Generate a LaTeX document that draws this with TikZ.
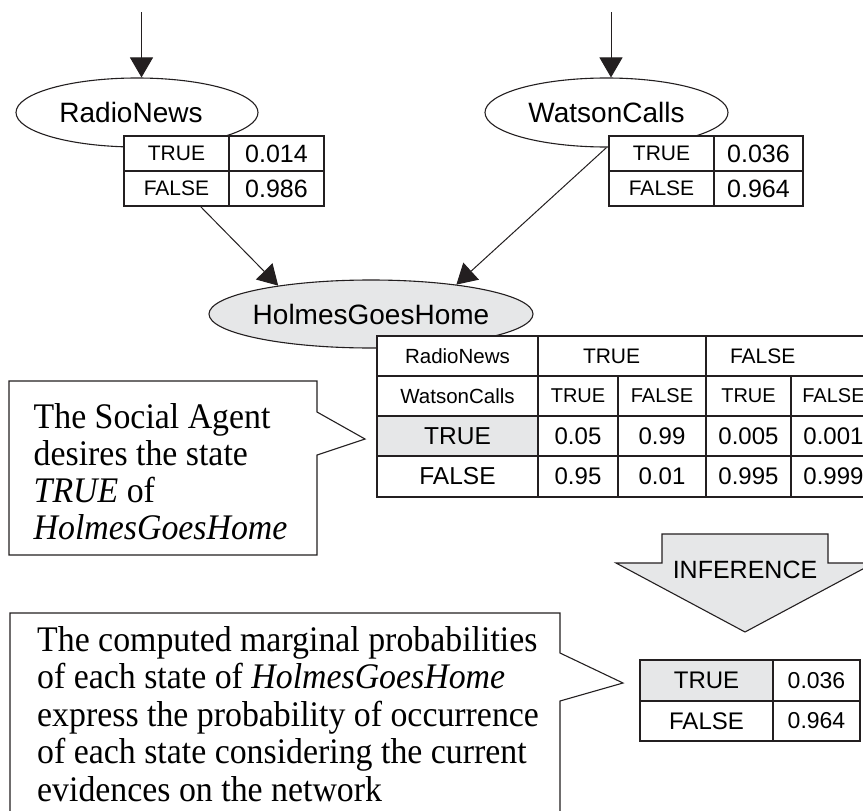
\documentclass[tikz,border=0pt]{standalone}
\usepackage{fontspec}
\setmainfont{Liberation Serif}
\newfontfamily\arialfont{Liberation Sans}
\newfontfamily\notefont[FakeStretch=0.94]{Liberation Serif}
\usetikzlibrary{arrows.meta,shapes.geometric,calc}

\definecolor{ink}{HTML}{231F20}
\definecolor{shade}{HTML}{E6E7E8}

% sans and serif text at a given size (pt)
\newcommand\sfz[1]{\fontsize{#1}{#1}\selectfont\arialfont}
\newcommand\rmz[1]{\fontsize{#1}{#1}\selectfont\notefont}

\begin{document}
\begin{tikzpicture}[x=1pt,y=-1pt,
  var/.style={ellipse, draw=ink, line width=1.1pt, inner sep=0pt, minimum height=69pt, font=\sfz{28}},
  cell/.style={rectangle, draw=ink, line width=1.1pt, fill=white, inner sep=0pt},
  hot/.style={fill=shade},
  conn/.style={draw=ink, line width=1pt, -{Triangle[length=20pt,width=23pt]}},
  bubble/.style={draw=ink, line width=1.1pt, fill=white, line join=miter},
  note/.style={anchor=base west, inner sep=0pt, font=\rmz{36}},
  lab/.style={font=\sfz{21}},
  val/.style={font=\sfz{25}},
]
\useasboundingbox (0,0) rectangle (863,811);
\clip (0,0) rectangle (863,811);

% ---------- parent variables ----------
\node[var, minimum width=242pt] (rn) at (137,112.5) {\makebox[0pt]{\hspace*{-12pt}RadioNews}};
\node[var, minimum width=243pt] (wc) at (606.5,112.5) {\makebox[0pt]{WatsonCalls}};

\coordinate (rnIn) at (141.5,12);
\coordinate (wcIn) at (611,12);
\draw[conn] (rnIn) -- (rnIn |- rn.north);
\draw[conn] (wcIn) -- (wcIn |- wc.north);

% prior of RadioNews
\node[cell, lab, minimum width=105pt, minimum height=35pt] (rnT)  at (176.5,153.5) {TRUE};
\node[cell, val, minimum width=95pt,  minimum height=35pt] (rnTv) at (276.5,153.5) {0.014};
\node[cell, lab, minimum width=105pt, minimum height=35pt] (rnF)  at (176.5,188.5) {FALSE};
\node[cell, val, minimum width=95pt,  minimum height=35pt] (rnFv) at (276.5,188.5) {0.986};

% prior of WatsonCalls
\node[cell, lab, minimum width=105pt, minimum height=35pt] (wcT)  at (661.5,153.5) {TRUE};
\node[cell, val, minimum width=89pt,  minimum height=35pt] (wcTv) at (758.5,153.5) {0.036};
\node[cell, lab, minimum width=105pt, minimum height=35pt] (wcF)  at (661.5,188.5) {FALSE};
\node[cell, val, minimum width=89pt,  minimum height=35pt] (wcFv) at (758.5,188.5) {0.964};

% ---------- child variable ----------
\node[var, minimum width=324pt, minimum height=68pt, fill=shade] (hgh) at (371,314) {\makebox[0pt]{HolmesGoesHome}};

\coordinate (rnOut) at (200,206);
\draw[conn] (rnOut) -- (hgh.163);
\draw[conn] (wc.south) -- (hgh.19);

% conditional probability table of HolmesGoesHome
\node[cell, font=\sfz{20.5}, minimum width=161pt, minimum height=40pt] (hRN) at (457.5,356) {RadioNews};
\node[cell, font=\sfz{21}, minimum width=168pt, minimum height=40pt] (hT) at (622,356) {\makebox[168pt][l]{\hspace{45pt}TRUE}};
\node[cell, font=\sfz{21}, minimum width=170pt, minimum height=40pt] (hF) at (791,356) {\makebox[170pt][l]{\hspace{24pt}FALSE}};

\node[cell, font=\sfz{20.5}, minimum width=161pt, minimum height=40pt] (hWC) at (457.5,396) {WatsonCalls};
\node[cell, font=\sfz{20}, minimum width=80pt, minimum height=40pt] (h2a) at (578,396)   {TRUE};
\node[cell, font=\sfz{20}, minimum width=88pt, minimum height=40pt] (h2b) at (662,396)   {FALSE};
\node[cell, font=\sfz{20}, minimum width=85pt, minimum height=40pt] (h2c) at (748.5,396) {TRUE};
\node[cell, font=\sfz{20}, minimum width=85pt, minimum height=40pt] (h2d) at (833.5,396) {FALSE};

\node[cell, hot, font=\sfz{24.5}, minimum width=161pt, minimum height=40pt] (sT) at (457.5,436) {TRUE};
\node[cell, font=\sfz{24}, minimum width=80pt, minimum height=40pt] (p1) at (578,436)   {0.05};
\node[cell, font=\sfz{24}, minimum width=88pt, minimum height=40pt] (p2) at (662,436)   {0.99};
\node[cell, font=\sfz{24}, minimum width=85pt, minimum height=40pt] (p3) at (748.5,436) {0.005};
\node[cell, font=\sfz{24}, minimum width=85pt, minimum height=40pt] (p4) at (833.5,436) {0.001};

\node[cell, font=\sfz{24.5}, minimum width=161pt, minimum height=41pt] (sF) at (457.5,476.5) {FALSE};
\node[cell, font=\sfz{24}, minimum width=80pt, minimum height=41pt] (q1) at (578,476.5)   {0.95};
\node[cell, font=\sfz{24}, minimum width=88pt, minimum height=41pt] (q2) at (662,476.5)   {0.01};
\node[cell, font=\sfz{24}, minimum width=85pt, minimum height=41pt] (q3) at (748.5,476.5) {0.995};
\node[cell, font=\sfz{24}, minimum width=85pt, minimum height=41pt] (q4) at (833.5,476.5) {0.999};

% ---------- desire callout ----------
\draw[bubble] (9,381) -- (317,381) -- (317,412) -- (365,439) -- (317,455)
  -- (317,555) -- (9,555) -- cycle;
\node[note] (d1) at (33.5,428) {The Social Agent};
\node[note] (d2) at (33.5,465) {desires the state};
\node[note] (d3) at (33.5,502) {\textit{TRUE} of};
\node[note] (d4) at (33.5,539) {\textit{HolmesGoesHome}};

% ---------- inference arrow ----------
\draw[draw=ink, line width=1.1pt, fill=shade, line join=miter]
  (662,534) -- (828,534) -- (828,563) -- (874,563) -- (745,632)
  -- (616,563) -- (662,563) -- cycle;
\node[font=\sfz{25}] (inf) at (745,570) {INFERENCE};

% ---------- marginal of HolmesGoesHome ----------
\node[cell, hot, font=\sfz{24}, minimum width=133pt, minimum height=41pt] (mT)  at (706.5,680.5) {TRUE};
\node[cell, font=\sfz{23}, minimum width=87pt, minimum height=41pt]       (mTv) at (816.5,680.5) {0.036};
\node[cell, font=\sfz{24}, minimum width=133pt, minimum height=40pt]      (mF)  at (706.5,721)   {FALSE};
\node[cell, font=\sfz{23}, minimum width=87pt, minimum height=40pt]       (mFv) at (816.5,721)   {0.964};

% ---------- marginal callout ----------
\draw[bubble] (10,613) -- (560,613) -- (560,653) -- (623,683) -- (560,701)
  -- (560,830) -- (10,830) -- cycle;
\node[note] (m1) at (37,651)   {The computed marginal probabilities};
\node[note] (m2) at (37,688.5) {of each state of \textit{HolmesGoesHome}};
\node[note] (m3) at (37,726)   {express the probability of occurrence};
\node[note] (m4) at (37,763.5) {of each state considering the current};
\node[note] (m5) at (37,801)   {evidences on the network};
\end{tikzpicture}
\end{document}
